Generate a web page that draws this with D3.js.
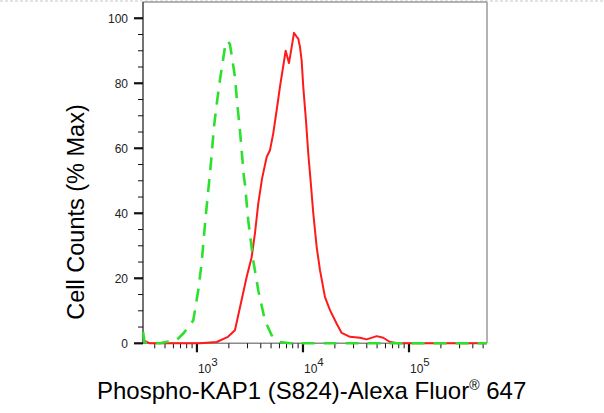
<!DOCTYPE html>
<html>
<head>
<meta charset="utf-8">
<script src="https://cdn.jsdelivr.net/npm/d3@7/dist/d3.min.js"></script>
<style>
html,body{margin:0;padding:0;background:#fff;}
svg{display:block;}
text{font-family:"Liberation Sans",Arial,sans-serif;}
</style>
</head>
<body>
<svg id="chart" width="604" height="413"></svg>
<script>
// ---- data (fluorescence intensity, % of max) ----
const isotypeX = [311, 320, 448, 643, 743, 923, 1029, 1107, 1208, 1306, 1355, 1447, 1554, 1648, 1837, 1948, 2048, 2283, 2399, 2545, 2776, 2837, 3048, 3397, 3787, 4381, 5066, 6067, 7540, 20000, 100000, 544000];
const isotypeY = [3.5, 0.3, 0, 1, 3, 7, 16.3, 24.6, 38.9, 50, 55.4, 66.6, 74.8, 81, 91, 93, 92, 82, 73.8, 65.5, 51, 49, 37.8, 25.5, 16.3, 7, 2.5, 0.4, 0, 0, 0, 0];
const sampleX = [311, 360, 1067, 1534, 1961, 2283, 2545, 2944, 3281, 3525, 3787, 4104, 4546, 4883, 5246, 5648, 6067, 6867, 7378, 7925, 8225, 8723, 9030, 9370, 9721, 10065, 10673, 11220, 11770, 12510, 13470, 14470, 16130, 17980, 20800, 23180, 27760, 34490, 39900, 49590, 57220, 66210, 79300, 200000, 544000];
const sampleY = [1, 0, 0, 0.4, 2, 4, 11, 20.4, 26.5, 33.8, 43, 50.5, 57.3, 59.4, 64.6, 71.7, 78.9, 90, 86.2, 92.2, 95.5, 94.3, 93.7, 91.2, 87, 78.9, 68.6, 58.4, 50.5, 40, 29.6, 22.5, 14.2, 10.2, 6, 3.2, 2, 1.7, 1.2, 2.2, 1.7, 0.4, 0, 0, 0];
const yMajorTicks = [0, 20, 40, 60, 80, 100];
const yMinorTicks = [5, 10, 15, 25, 30, 35, 45, 50, 55, 65, 70, 75, 85, 90, 95];
const xMajorTicks = [1000, 10000, 100000];
const xMajorExp = ["3", "4", "5"];
const xMinorTicks = [400, 500, 600, 700, 800, 900, 2000, 3000, 4000, 5000, 6000, 7000, 8000, 9000, 20000, 30000, 40000, 50000, 60000, 70000, 80000, 90000, 200000, 300000, 400000, 500000];
const xDomain = [310, 544000];
const yDomain = [0, 105];
const xTitle = "Phospho-KAP1 (S824)-Alexa Fluor";
const xTitleSup = "®";
const xTitleEnd = " 647";
const yTitle = "Cell Counts (% Max)";

// ---- layout ----
const L = 143, R = 487, T = 2, B = 343.3;
const svg = d3.select("#chart");
svg.append("rect").attr("width", 604).attr("height", 413).attr("fill", "#fff");

const x = d3.scaleLog().domain(xDomain).range([L, R]);
const y = d3.scaleLinear().domain(yDomain).range([B, T]);

// top dashed separator
svg.append("line").attr("x1", 0).attr("x2", 604).attr("y1", 1).attr("y2", 1)
  .attr("stroke", "#c8c8c8").attr("stroke-width", 1).attr("stroke-dasharray", "3,2");

// frame top & right
svg.append("line").attr("x1", L).attr("x2", R).attr("y1", T).attr("y2", T)
  .attr("stroke", "#9a9a9a").attr("stroke-width", 1.5);
svg.append("line").attr("x1", R).attr("x2", R).attr("y1", T).attr("y2", B)
  .attr("stroke", "#9a9a9a").attr("stroke-width", 1.5);

// x axis
const gx = svg.append("g");
gx.append("line").attr("x1", L).attr("x2", R).attr("y1", B).attr("y2", B)
  .attr("stroke", "#8a8a8a").attr("stroke-width", 1.5);
gx.selectAll(".xmin").data(xMinorTicks).enter().append("line")
  .attr("x1", d => x(d)).attr("x2", d => x(d)).attr("y1", B).attr("y2", B + 5)
  .attr("stroke", "#111").attr("stroke-width", 1);
gx.selectAll(".xmaj").data(xMajorTicks).enter().append("line")
  .attr("x1", d => x(d)).attr("x2", d => x(d)).attr("y1", B).attr("y2", B + 9)
  .attr("stroke", "#111").attr("stroke-width", 2.2);
const xl = gx.selectAll(".xlab").data(xMajorTicks).enter().append("text")
  .attr("x", d => x(d) + 1).attr("y", 373)
  .attr("font-size", 12).attr("fill", "#222");
xl.append("tspan").text("10");
xl.append("tspan").attr("dy", -7).attr("font-size", 11.5).text((d, i) => xMajorExp[i]);

// y axis
const gy = svg.append("g");
gy.append("line").attr("x1", L).attr("x2", L).attr("y1", T).attr("y2", B)
  .attr("stroke", "#444").attr("stroke-width", 1.5);
gy.selectAll(".ymin").data(yMinorTicks).enter().append("line")
  .attr("x1", L - 5).attr("x2", L).attr("y1", d => y(d)).attr("y2", d => y(d))
  .attr("stroke", "#111").attr("stroke-width", 1);
gy.selectAll(".ymaj").data(yMajorTicks).enter().append("line")
  .attr("x1", L - 9).attr("x2", L).attr("y1", d => y(d)).attr("y2", d => y(d))
  .attr("stroke", "#111").attr("stroke-width", 2.2);
gy.selectAll(".ylab").data(yMajorTicks).enter().append("text")
  .attr("x", 128).attr("y", d => y(d) + 4.5).attr("text-anchor", "end")
  .attr("font-size", 12).attr("fill", "#222").text(d => d);

// curves
const line = d3.line().x(d => x(d[0])).y(d => y(d[1]));
const iso = isotypeX.map((v, i) => [v, isotypeY[i]]);
const smp = sampleX.map((v, i) => [v, sampleY[i]]);

svg.append("path").datum(smp).attr("d", line)
  .attr("fill", "none").attr("stroke", "#ff1a1a").attr("stroke-width", 2)
  .attr("stroke-linejoin", "round");
svg.append("path").datum(iso).attr("d", line)
  .attr("fill", "none").attr("stroke", "#2ee02e").attr("stroke-width", 2.6)
  .attr("stroke-dasharray", "13,9");

// titles
const xt = svg.append("text").attr("x", 97).attr("y", 399)
  .attr("font-size", 24).attr("fill", "#000");
xt.append("tspan").text(xTitle);
xt.append("tspan").attr("dy", -9).attr("font-size", 14).text(xTitleSup);
xt.append("tspan").attr("dy", 9).text(xTitleEnd);

svg.append("text").attr("transform", "translate(84,212) rotate(-90)")
  .attr("text-anchor", "middle").attr("font-size", 23.5).attr("fill", "#000")
  .text(yTitle);
</script>
</body>
</html>
